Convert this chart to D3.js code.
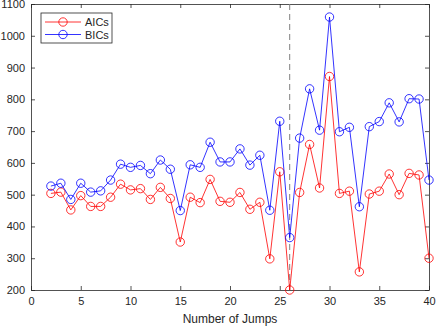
<!DOCTYPE html>
<html><head><meta charset="utf-8">
<script src="https://cdn.jsdelivr.net/npm/d3@7"></script>
<style>body{margin:0;background:#fff}svg{display:block}text{font-family:"Liberation Sans",Arial,sans-serif}</style>
</head><body><svg id="c" width="436" height="327"></svg>
<script>
const jumps = [2,3,4,5,6,7,8,9,10,11,12,13,14,15,16,17,18,19,20,21,22,23,24,25,26,27,28,29,30,31,32,33,34,35,36,37,38,39,40];
const aics = [504,508,452,497,463,463,492,533,515,519,485,523,488,351,492,475,548,479,476,507,454,476,298,572,200,507,658,521,872,504,511,257,502,511,565,500,567,562,300];
const bics = [527,536,485,536,508,512,546,596,586,592,566,609,580,450,594,586,665,603,603,644,593,624,451,731,365,678,833,703,1059,698,712,462,714,730,789,729,802,801,546];
const xTicks = [0,5,10,15,20,25,30,35,40];
const yTicks = [200,300,400,500,600,700,800,900,1000,1100];
const dashX = 26;
const seriesNames = ["AICs","BICs"];
const colors = ["#ff0000","#0000ff"];

const svg = d3.select("#c");
const L=31,R=429,T=4,B=290;
const x = d3.scaleLinear().domain([0,40]).range([L,R]);
const y = d3.scaleLinear().domain([200,1100]).range([B,T]);
const axc = "#262626";

const g = svg.append("g");
const bx = g.append("g").attr("transform",`translate(0,${B})`).call(d3.axisBottom(x).tickValues(xTicks).tickFormat(d3.format("d")).tickSizeInner(-4).tickSizeOuter(0).tickPadding(7));
const tx = g.append("g").attr("transform",`translate(0,${T})`).call(d3.axisTop(x).tickValues(xTicks).tickSizeInner(-4).tickSizeOuter(0).tickFormat(""));
const ly = g.append("g").attr("transform",`translate(${L},0)`).call(d3.axisLeft(y).tickValues(yTicks).tickFormat(d3.format("d")).tickSizeInner(-4).tickSizeOuter(0).tickPadding(6));
const ry = g.append("g").attr("transform",`translate(${R},0)`).call(d3.axisRight(y).tickValues(yTicks).tickSizeInner(-4).tickSizeOuter(0).tickFormat(""));
[bx,tx,ly,ry].forEach(a=>{
  a.selectAll("path").attr("stroke",axc).attr("stroke-width",0.8);
  a.selectAll("line").attr("stroke",axc).attr("stroke-width",0.8);
  a.selectAll("text").attr("fill",axc).style("font-size","11px");
});

g.append("line").attr("x1",x(dashX)).attr("x2",x(dashX)).attr("y1",T).attr("y2",B)
  .attr("stroke","#808080").attr("stroke-width",1).attr("stroke-dasharray","6,4");

const data=[aics,bics];
data.forEach((vals,i)=>{
  const pts = jumps.map((j,k)=>[j,vals[k]]);
  g.append("path").datum(pts).attr("fill","none").attr("stroke",colors[i]).attr("stroke-width",0.8)
    .attr("d",d3.line().x(d=>x(d[0])).y(d=>y(d[1])));
  g.selectAll(null).data(pts).enter().append("circle")
    .attr("cx",d=>x(d[0])).attr("cy",d=>y(d[1])).attr("r",4.2)
    .attr("fill","none").attr("stroke",colors[i]).attr("stroke-width",0.8);
});

g.append("text").attr("x",(L+R)/2).attr("y",323).attr("text-anchor","middle").attr("fill",axc).style("font-size","12px").text("Number of Jumps");

const lg = g.append("g");
lg.append("rect").attr("x",41).attr("y",13).attr("width",71).attr("height",30).attr("fill","#fff").attr("stroke",axc).attr("stroke-width",0.8);
seriesNames.forEach((n,i)=>{
  const yy = 22+i*12.5;
  lg.append("line").attr("x1",45).attr("x2",81).attr("y1",yy).attr("y2",yy).attr("stroke",colors[i]).attr("stroke-width",0.8);
  lg.append("circle").attr("cx",63).attr("cy",yy).attr("r",4.2).attr("fill","none").attr("stroke",colors[i]).attr("stroke-width",0.8);
  lg.append("text").attr("x",85).attr("y",yy+4).attr("fill",axc).style("font-size","11px").text(n);
});
</script></body></html>
